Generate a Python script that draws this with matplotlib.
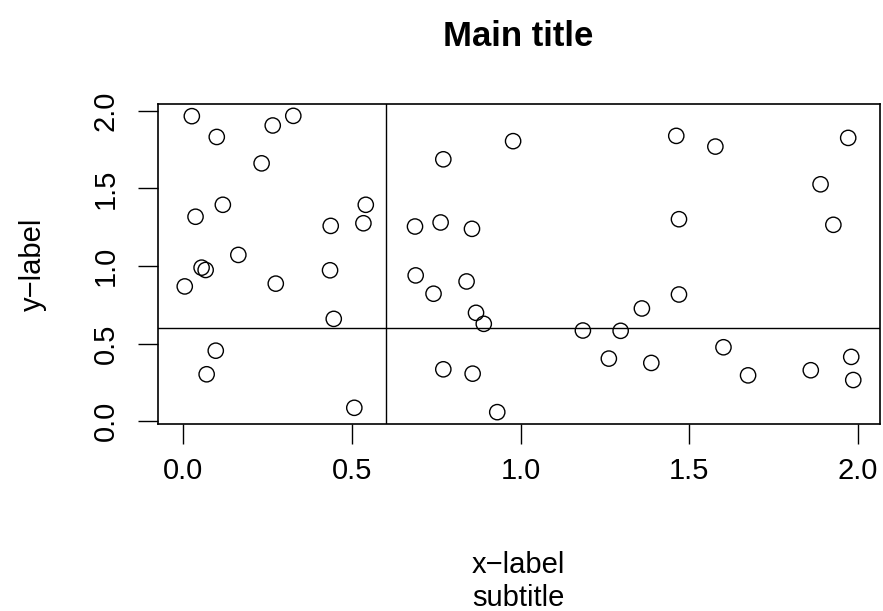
import matplotlib
matplotlib.use("Agg")
import matplotlib.pyplot as plt
import numpy as np

# points
x = np.array([
    0.025, 0.099, 0.265, 0.326, 0.232, 0.117, 0.036, 0.541, 0.534, 0.437,
    0.163, 0.054, 0.066, 0.004, 0.274, 0.435, 0.446, 0.096, 0.069, 0.507,
    0.978, 0.771, 0.687, 0.763, 0.856,
    0.689, 0.742, 0.840, 0.868, 0.891, 1.185, 1.297, 1.262, 0.771, 0.858, 0.931,
    1.462, 1.578, 1.972, 1.890, 1.470, 1.928,
    1.360, 1.470, 1.388, 1.602, 1.675, 1.861, 1.981, 1.987,
])
y = np.array([
    1.965, 1.831, 1.905, 1.967, 1.661, 1.394, 1.317, 1.394, 1.275, 1.258,
    1.071, 0.989, 0.974, 0.868, 0.886, 0.972, 0.659, 0.454, 0.302, 0.086,
    1.804, 1.687, 1.254, 1.280, 1.239,
    0.939, 0.821, 0.900, 0.698, 0.627, 0.584, 0.582, 0.403, 0.334, 0.306, 0.058,
    1.838, 1.769, 1.825, 1.526, 1.301, 1.265,
    0.726, 0.816, 0.375, 0.476, 0.295, 0.328, 0.414, 0.265,
])
ticks = [0.0, 0.5, 1.0, 1.5, 2.0]
tick_labels = ["0.0", "0.5", "1.0", "1.5", "2.0"]
cut = 0.6

plt.rcParams['font.family'] = ['Liberation Sans', 'DejaVu Sans']

W, H = 883, 611
fig = plt.figure(figsize=(W / 100, H / 100), dpi=100)
ax = fig.add_axes([158 / W, (H - 424) / H, (880 - 158) / W, (424 - 104) / H])

ax.scatter(x, y, s=11 ** 2, facecolors="none", edgecolors="black", linewidths=1.0, zorder=3)
ax.axvline(cut, color="black", lw=1.0)
ax.axhline(cut, color="black", lw=1.0)

# R style: 4% padding around data range
def pad(v):
    r = v.max() - v.min()
    return v.min() - 0.04 * r, v.max() + 0.04 * r

ax.set_xlim(*pad(x))
ax.set_ylim(*pad(y))
ax.set_xticks(ticks)
ax.set_xticklabels(tick_labels)
ax.set_yticks(ticks)
ax.set_yticklabels(tick_labels, rotation=90, va="center")
for s in ax.spines.values():
    s.set_linewidth(1.2)
ax.tick_params(axis="both", direction="out", length=14.4, width=1.0, labelsize=21)
ax.tick_params(axis="x", pad=9.5)
ax.tick_params(axis="y", pad=13)

fig.text(518 / W, 1 - 37 / H, "Main title", ha="center", va="center",
         fontsize=25, fontweight="bold")
fig.text(518 / W, 1 - 565 / H, "x\u2212label", ha="center", va="center", fontsize=21)
fig.text(518 / W, 1 - 598 / H, "subtitle", ha="center", va="center", fontsize=21)
fig.text(33 / W, 1 - 264 / H, "y\u2212label", ha="center", va="center",
         rotation=90, fontsize=21)

fig.savefig("out.png", dpi=100)
